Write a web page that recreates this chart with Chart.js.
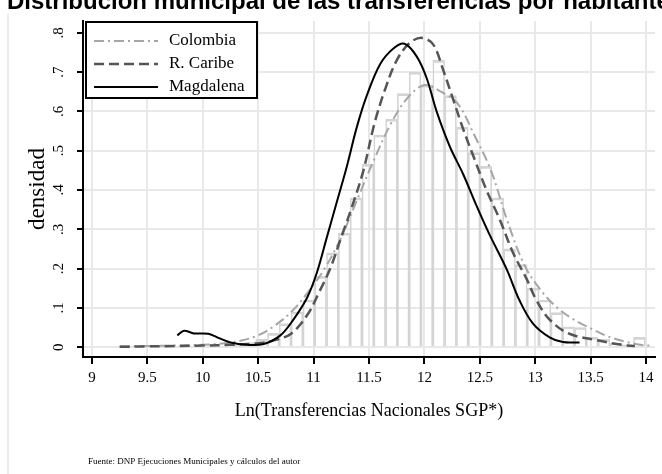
<!DOCTYPE html>
<html lang="es">
<head>
<meta charset="UTF-8">
<title>Distribución municipal de las transferencias por habitante</title>
<style>
  body { margin: 0; background: #fff; }
  .chart-box { position: relative; width: 662px; height: 474px; }
</style>
</head>
<body>
<div class="chart-box"><canvas id="chart"></canvas></div>
<script src="https://cdn.jsdelivr.net/npm/chart.js@4.4.0/dist/chart.umd.js"></script>
<script>
// tick values
const xTicks = [9, 9.5, 10, 10.5, 11, 11.5, 12, 12.5, 13, 13.5, 14];
const yTicks = [0, 0.1, 0.2, 0.3, 0.4, 0.5, 0.6, 0.7, 0.8];

// histogram (Colombia), bin centres and density
const binCenters = [10.317, 10.424, 10.530, 10.637, 10.743, 10.850, 10.957, 11.063, 11.170, 11.276,
                    11.383, 11.490, 11.596, 11.703, 11.809, 11.916, 12.022, 12.129, 12.236, 12.342,
                    12.449, 12.555, 12.662, 12.768, 12.875, 12.981, 13.088, 13.195, 13.301, 13.408,
                    13.514, 13.621, 13.727, 13.834, 13.940];
const binDensity = [0.005, 0.012, 0.02, 0.035, 0.06, 0.09, 0.12, 0.18, 0.24, 0.29,
                    0.38, 0.465, 0.54, 0.58, 0.645, 0.70, 0.667, 0.73, 0.64, 0.56,
                    0.495, 0.46, 0.38, 0.25, 0.21, 0.15, 0.12, 0.088, 0.052, 0.05,
                    0.025, 0.02, 0.01, 0.006, 0.025];

// kernel densities
const colombiaX = [9.25, 9.5, 9.75, 10.0, 10.2, 10.35, 10.5, 10.65, 10.8, 10.95, 11.1, 11.25, 11.4, 11.55,
                   11.7, 11.85, 12.0, 12.15, 12.3, 12.45, 12.6, 12.75, 12.9, 13.05, 13.2, 13.35, 13.5,
                   13.65, 13.8, 13.95, 14.05];
const colombiaY = [0.002, 0.003, 0.004, 0.006, 0.01, 0.017, 0.03, 0.055, 0.09, 0.14, 0.2, 0.28, 0.38, 0.48,
                   0.57, 0.635, 0.667, 0.65, 0.62, 0.54, 0.45, 0.32, 0.21, 0.145, 0.10, 0.07, 0.048,
                   0.028, 0.015, 0.006, 0.004];

const caribeX = [9.25, 9.5, 9.75, 10.0, 10.25, 10.5, 10.65, 10.8, 10.95, 11.05, 11.15, 11.25, 11.35, 11.45,
                 11.55, 11.65, 11.75, 11.87, 11.98, 12.08, 12.17, 12.26, 12.35, 12.45, 12.56, 12.68, 12.8,
                 12.92, 13.01, 13.13, 13.3, 13.55, 13.78, 13.9];
const caribeY = [0.001, 0.002, 0.003, 0.004, 0.006, 0.01, 0.018, 0.035, 0.085, 0.14, 0.2, 0.28, 0.36, 0.45,
                 0.57, 0.66, 0.73, 0.775, 0.787, 0.77, 0.705, 0.63, 0.555, 0.48, 0.40, 0.325, 0.24,
                 0.175, 0.12, 0.07, 0.035, 0.018, 0.006, 0.003];

const magdalenaX = [9.77, 9.83, 9.92, 10.05, 10.13, 10.25, 10.4, 10.55, 10.7, 10.81, 10.94, 11.03, 11.12,
                    11.21, 11.30, 11.39, 11.48, 11.60, 11.72, 11.82, 11.93, 12.02, 12.11, 12.23, 12.35,
                    12.47, 12.59, 12.74, 12.86, 12.98, 13.13, 13.25, 13.40];
const magdalenaY = [0.03, 0.042, 0.035, 0.034, 0.025, 0.012, 0.006, 0.008, 0.03, 0.067, 0.125, 0.19, 0.28,
                    0.37, 0.46, 0.56, 0.64, 0.72, 0.76, 0.772, 0.74, 0.685, 0.60, 0.51, 0.44,
                    0.36, 0.285, 0.2, 0.118, 0.06, 0.025, 0.013, 0.012];

const SERIF = '"Liberation Serif", "Times New Roman", serif';
const pts = (xs, ys) => xs.map((x, i) => ({ x: x, y: ys[i] }));

// title, footnote, left frame line and the boxed legend
const decorations = {
    id: 'decorations',
    afterDraw(chart) {
        const ctx = chart.ctx;
        ctx.save();
        ctx.strokeStyle = '#ebebeb';
        ctx.lineWidth = 2;
        ctx.beginPath();
        ctx.moveTo(8, 14);
        ctx.lineTo(8, 474);
        ctx.stroke();

        ctx.fillStyle = '#000';
        ctx.font = 'bold 24px "Liberation Sans", Arial, sans-serif';
        ctx.textBaseline = 'alphabetic';
        ctx.textAlign = 'left';
        ctx.fillText('Distribución municipal de las transferencias por habitante', 7, 9);

        ctx.font = '9px ' + SERIF;
        ctx.fillText('Fuente: DNP Ejecuciones Municipales y cálculos del autor', 88, 464);

        // legend
        ctx.fillStyle = '#fff';
        ctx.fillRect(86, 22, 171, 76);
        ctx.lineWidth = 2;
        ctx.strokeStyle = '#000';
        ctx.strokeRect(86, 22, 171, 76);
        const lines = chart.data.datasets.filter(d => d.type === 'line');
        lines.forEach((ds, i) => {
            const y = 41 + i * 23;
            ctx.beginPath();
            ctx.setLineDash(ds.borderDash || []);
            ctx.strokeStyle = ds.borderColor;
            ctx.lineWidth = ds.borderWidth;
            ctx.moveTo(94, y);
            ctx.lineTo(158, y);
            ctx.stroke();
            ctx.setLineDash([]);
            ctx.fillStyle = '#000';
            ctx.font = '17px ' + SERIF;
            ctx.textBaseline = 'middle';
            ctx.fillText(ds.label, 169, y);
        });
        ctx.restore();
    }
};

const ctx = document.getElementById('chart').getContext('2d');
new Chart(ctx, {
    type: 'bar',
    data: {
        datasets: [
            {
                type: 'line', label: 'Colombia', data: pts(colombiaX, colombiaY),
                borderColor: '#a6a6a6', borderWidth: 2, borderDash: [10, 4, 2, 4],
                pointRadius: 0, tension: 0.35, fill: false, order: 2
            },
            {
                type: 'line', label: 'R. Caribe', data: pts(caribeX, caribeY),
                borderColor: '#555555', borderWidth: 2.5, borderDash: [10, 5],
                pointRadius: 0, tension: 0.35, fill: false, order: 1
            },
            {
                type: 'line', label: 'Magdalena', data: pts(magdalenaX, magdalenaY),
                borderColor: '#000000', borderWidth: 2,
                pointRadius: 0, tension: 0.35, fill: false, order: 0
            },
            {
                type: 'bar', label: 'hist', data: pts(binCenters, binDensity),
                backgroundColor: 'rgba(0,0,0,0)', borderColor: '#d4d4d4',
                borderWidth: { top: 2, left: 1, right: 1, bottom: 0 },
                barPercentage: 1, categoryPercentage: 1, order: 10
            }
        ]
    },
    options: {
        responsive: true,
        maintainAspectRatio: false,
        animation: false,
        layout: { padding: { top: 15, right: 7, bottom: 0, left: 0 } },
        plugins: { legend: { display: false }, tooltip: { enabled: false } },
        scales: {
            x: {
                type: 'linear',
                min: 8.919, max: 14.081,
                offset: false,
                afterFit: s => { s.height = 117; },
                afterBuildTicks: s => { s.ticks = xTicks.map(v => ({ value: v })); },
                grid: { offset: false, color: '#e8e8e8', lineWidth: 2, tickColor: '#000', tickLength: 7, tickWidth: 2 },
                border: { color: '#000', width: 2 },
                ticks: {
                    color: '#000', padding: 5, maxRotation: 0,
                    font: { family: SERIF, size: 15 },
                    callback: v => String(v)
                },
                title: {
                    display: true, text: 'Ln(Transferencias Nacionales SGP*)', color: '#000',
                    font: { family: SERIF, size: 18 }, padding: { top: 0, bottom: 52 }
                }
            },
            y: {
                min: -0.025, max: 0.83,
                afterFit: s => { s.width = 83; },
                afterBuildTicks: s => { s.ticks = yTicks.map(v => ({ value: v })); },
                grid: { color: '#e8e8e8', lineWidth: 2, tickColor: '#000', tickLength: 6, tickWidth: 2 },
                border: { color: '#000', width: 2 },
                ticks: {
                    color: '#000', minRotation: 90, maxRotation: 90, crossAlign: 'center', padding: 12,
                    font: { family: SERIF, size: 15 },
                    callback: v => v === 0 ? '0' : v.toFixed(1).replace(/^0/, '')
                },
                title: {
                    display: true, text: 'densidad', color: '#000',
                    font: { family: SERIF, size: 23 }, padding: { top: 24, bottom: 0 }
                }
            }
        }
    },
    plugins: [decorations]
});
</script>
</body>
</html>
